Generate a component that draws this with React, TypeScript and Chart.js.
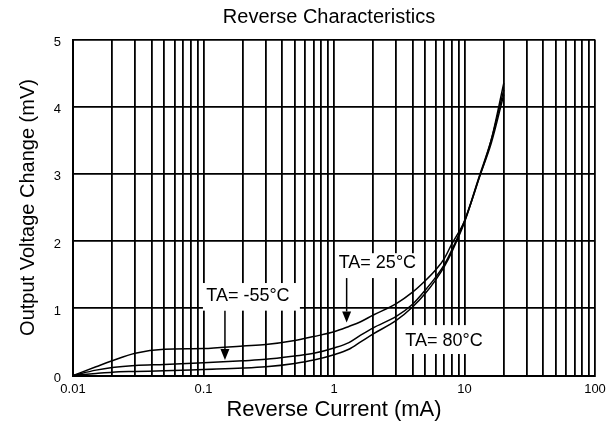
import React, { useEffect, useRef } from 'react';
import { Chart, registerables } from 'chart.js';

Chart.register(...registerables);

// ---- data ----
const CURRENT_MA = [0.01, 0.015, 0.02, 0.03, 0.05, 0.1, 0.2, 0.3, 0.5, 0.7, 1, 1.3, 1.6, 2, 3, 4, 5, 6, 7, 8, 10, 13, 16, 20];
const DV_TA_25 = [0, 0.13, 0.22, 0.33, 0.39, 0.4, 0.44, 0.46, 0.52, 0.58, 0.65, 0.73, 0.8, 0.9, 1.07, 1.24, 1.41, 1.57, 1.74, 1.96, 2.3, 2.95, 3.5, 4.35];
const DV_TA_M55 = [0, 0.08, 0.12, 0.15, 0.165, 0.19, 0.22, 0.24, 0.29, 0.33, 0.41, 0.49, 0.6, 0.71, 0.88, 1.06, 1.27, 1.46, 1.65, 1.87, 2.3, 2.97, 3.5, 4.25];
const DV_TA_80 = [0, 0.03, 0.05, 0.06, 0.07, 0.09, 0.11, 0.13, 0.18, 0.23, 0.31, 0.39, 0.5, 0.62, 0.82, 1.02, 1.22, 1.42, 1.62, 1.84, 2.28, 2.95, 3.45, 4.18];

const DECADE_STARTS = [0.01, 0.1, 1, 10];
const X_LABEL_VALUES = [0.01, 0.1, 1, 10, 100];
const X_LABEL_TEXT = ['0.01', '0.1', '1', '10', '100'];
const Y_TICKS = [0, 1, 2, 3, 4, 5];

const TITLE = 'Reverse Characteristics';
const X_TITLE = 'Reverse Current (mA)';
const Y_TITLE = 'Output Voltage Change (mV)';

const NOTE_TEXT = ['TA= -55°C', 'TA= 25°C', 'TA= 80°C'];

// annotation placement (data coordinates)
const NOTE_POS = [
  { x: 0.219, y: 1.18, x0: 0.099, x1: 0.548, y0: 0.965, y1: 1.376 },
  { x: 2.15, y: 1.674, x0: 1.06, x1: 4.56, y0: 1.45, y1: 1.82 },
  { x: 6.97, y: 0.52, x0: 3.38, x1: 14.9, y0: 0.32, y1: 0.75 },
];
const ARROW_POS = [
  { x: 0.146, y0: 0.965, y1: 0.23 },
  { x: 1.25, y0: 1.45, y1: 0.79 },
];

const FONT = '"Liberation Sans", Arial, Helvetica, sans-serif';

const xGrid: number[] = [];
DECADE_STARTS.forEach((d) => {
  for (let m = 1; m <= 9; m++) xGrid.push(parseFloat((d * m).toPrecision(6)));
});
xGrid.push(100);

const toPoints = (ys: number[]) => CURRENT_MA.map((x, i) => ({ x, y: ys[i] }));

const notesPlugin = {
  id: 'notes',
  beforeDatasetsDraw(chart: any) {
    const { ctx, scales } = chart;
    const xs = scales.x, ys = scales.y;
    ctx.save();
    ctx.fillStyle = '#ffffff';
    NOTE_POS.forEach((n) => {
      const px0 = xs.getPixelForValue(n.x0);
      const px1 = xs.getPixelForValue(n.x1);
      const py0 = ys.getPixelForValue(n.y0);
      const py1 = ys.getPixelForValue(n.y1);
      ctx.fillRect(px0, py1, px1 - px0, py0 - py1);
    });
    ctx.restore();
  },
  afterDatasetsDraw(chart: any) {
    const { ctx, scales } = chart;
    const xs = scales.x, ys = scales.y;
    ctx.save();
    ctx.fillStyle = '#000';
    ctx.strokeStyle = '#000';
    ctx.font = `18px ${FONT}`;
    ctx.textAlign = 'center';
    ctx.textBaseline = 'middle';
    NOTE_POS.forEach((n, i) => {
      ctx.fillText(NOTE_TEXT[i], xs.getPixelForValue(n.x), ys.getPixelForValue(n.y));
    });
    ARROW_POS.forEach((a) => {
      const px = xs.getPixelForValue(a.x);
      const py0 = ys.getPixelForValue(a.y0);
      const py1 = ys.getPixelForValue(a.y1);
      const head = 11;
      ctx.lineWidth = 1.5;
      ctx.beginPath();
      ctx.moveTo(px, py0);
      ctx.lineTo(px, py1 - head);
      ctx.stroke();
      ctx.beginPath();
      ctx.moveTo(px - 4.5, py1 - head);
      ctx.lineTo(px + 4.5, py1 - head);
      ctx.lineTo(px, py1);
      ctx.closePath();
      ctx.fill();
    });
    ctx.restore();
  },
  afterDraw(chart: any) {
    const { ctx, chartArea } = chart;
    ctx.save();
    ctx.fillStyle = '#000';
    ctx.font = `20px ${FONT}`;
    ctx.textAlign = 'center';
    ctx.textBaseline = 'middle';
    ctx.fillText(TITLE, (chartArea.left + chartArea.right) / 2 - 5, 17);
    ctx.restore();
  },
};

export default function App() {
  const ref = useRef<HTMLCanvasElement | null>(null);

  useEffect(() => {
    if (!ref.current) return;
    const lineStyle = {
      borderColor: '#000',
      backgroundColor: '#000',
      borderWidth: 1.5,
      pointRadius: 0,
      fill: false,
      tension: 0.4,
      cubicInterpolationMode: 'monotone' as const,
    };
    const chart = new Chart(ref.current, {
      type: 'line',
      data: {
        datasets: [
          { label: NOTE_TEXT[1], data: toPoints(DV_TA_25), ...lineStyle },
          { label: NOTE_TEXT[0], data: toPoints(DV_TA_M55), ...lineStyle },
          { label: NOTE_TEXT[2], data: toPoints(DV_TA_80), ...lineStyle },
        ],
      },
      options: {
        animation: false,
        responsive: true,
        maintainAspectRatio: false,
        layout: { padding: { left: 0, right: 17, top: 39.5, bottom: 0 } },
        plugins: {
          legend: { display: false },
          title: { display: false },
          tooltip: { enabled: false },
        },
        scales: {
          x: {
            type: 'logarithmic',
            min: 0.01,
            max: 100,
            afterBuildTicks: (scale: any) => {
              scale.ticks = xGrid.map((v) => ({ value: v }));
            },
            afterFit: (scale: any) => {
              scale.height = 47.5;
            },
            grid: { color: '#000', lineWidth: 1.8, drawTicks: false },
            border: { color: '#000', width: 2 },
            ticks: {
              autoSkip: false,
              maxRotation: 0,
              color: '#000',
              padding: 6,
              font: { family: FONT, size: 13 },
              callback: (v: any) => {
                const val = Number(v);
                const idx = X_LABEL_VALUES.findIndex((t) => Math.abs(Math.log10(t) - Math.log10(val)) < 1e-6);
                return idx >= 0 ? X_LABEL_TEXT[idx] : '';
              },
            },
            title: {
              display: true,
              text: X_TITLE,
              color: '#000',
              font: { family: FONT, size: 22 },
              padding: { top: 0, bottom: 0 },
            },
          },
          y: {
            type: 'linear',
            min: 0,
            max: 5,
            afterBuildTicks: (scale: any) => {
              scale.ticks = Y_TICKS.map((v) => ({ value: v }));
            },
            afterFit: (scale: any) => {
              scale.width = 73;
            },
            grid: { color: '#000', lineWidth: 1.8, drawTicks: false },
            border: { color: '#000', width: 2 },
            ticks: {
              color: '#000',
              padding: 12,
              labelOffset: 3,
              font: { family: FONT, size: 13 },
            },
            title: {
              display: true,
              text: Y_TITLE,
              color: '#000',
              font: { family: FONT, size: 20 },
              padding: { top: 16, bottom: 0 },
            },
          },
        },
      },
      plugins: [notesPlugin],
    });
    return () => chart.destroy();
  }, []);

  return (
    <div style={{ position: 'fixed', left: 0, top: 0, width: 612, height: 423, background: '#fff' }}>
      <canvas ref={ref} />
    </div>
  );
}
